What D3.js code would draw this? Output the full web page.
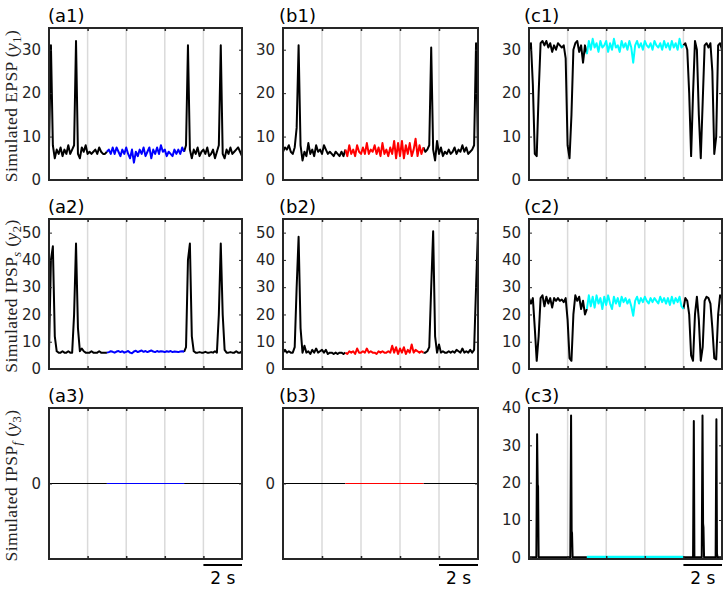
<!DOCTYPE html>
<html>
<head>
<meta charset="utf-8">
<script src="https://cdn.jsdelivr.net/npm/d3@7"></script>
<style>
  body { margin: 0; background: #fff; }
  svg { display: block; }
</style>
</head>
<body>
<script>
    // sample times of the traces, one every 0.1 s over the 10 s window
    var sampleTimes = d3.range(101).map((i) => i / 10);

    // gridlines / x ticks (s)
    var gridTimes = [2, 4, 6, 8];

    // y tick values per panel type
    var epspTicks = [0, 10, 20, 30];
    var ipspsTicks = [0, 10, 20, 30, 40, 50];
    var ipspfTicks = [0];
    var c3Ticks = [0, 10, 20, 30, 40];

    // highlighted window (s) of each column
    var aWindow = [3, 7];
    var bWindow = [3.2, 7.2];
    var cWindow = [3, 8];

    // (a1) simulated EPSP
    var a1Values = [7,31,8,5,7,6,7.5,5.5,7,6,
      8,6,7,8,32,6,5,7.5,6.5,8,
      6,6.5,6,6.5,7,6,7.5,6.5,6,6,
      6.5,7,6,7.5,6,7.5,6.5,5.5,7,6,
      7.5,6,5,7,4,6.5,5.5,7,6,7.5,
      5.5,6.5,7.5,5,7,6,7.5,6,8,6.5,
      7,5.5,6.5,6,5.5,7,6,7,6,7.5,
      6.5,8,31,7,5,7,6,7.5,5.5,6.5,
      7,6,7.5,5.5,6,7,5,6.5,8,31,
      6,5,7,6,7.5,6,6.5,7,7.5,6.5,
      5.5];

    // (a2) simulated IPSP_s
    var a2Values = [6,40,45,12,6.5,6,6,6.5,6,6,
      6.5,6,6,20,46,15,6.5,7.5,6.5,6,
      6,6,6.5,6,6,6,6.5,6,6,6,
      6,6.2,6.5,6.3,6,6.4,6.6,6.2,6.5,6,
      6.3,6.6,6,5.8,6.4,6.7,6.2,6.5,6.8,6.3,
      6.6,6.2,6.5,6.8,6.4,6.2,6.6,6.3,6.5,6.4,
      6.2,6.5,6.3,6.6,6.2,6.4,6.3,6.2,6.4,6.5,
      6.3,8,40,46,12,6.5,6,6,6.2,6,
      6,6.3,6,6,6.2,6,6.5,6,20,46,
      20,7,6,6,6.2,6,6,6.5,6,6,
      6.5];

    // (b1) simulated EPSP
    var b1Values = [6.5,7.5,7,8,6.5,6,7.5,12,31,8,
      4.5,6.5,5.5,8.5,6,7,5.5,8,6.5,7,
      6,8,7,6,6.5,6,5.5,6.5,6,5.5,
      6.5,5.5,7,5.5,8,6,7,5.5,8,6.5,
      6,7.5,6,8.5,6,7,6.5,8,6,7.5,
      5.5,8.5,6,7,5.5,7.5,6,9,5,8.5,
      5.5,9,5,8,6,8.5,5.5,7,9.5,5.5,
      8,6,7.5,6.5,7,8,30.5,7,4.5,9,
      6,7.5,5.5,6.5,6,7,6,6.5,7.5,6,
      7,6.5,8,6.5,7.5,6,6.5,7,8,31.5,
      6];

    // (b2) simulated IPSP_s
    var b2Values = [6,7,6,6.5,6,6,8,30,48.5,15,
      6,8.5,6,6.5,5.5,7,6,7.5,6,6.5,
      7,6,7,5.5,6,6,5.5,6,5.5,6,
      6,5.5,6,5.5,6.5,6,6.5,5.5,7.5,6,
      6,6.5,6,7.5,6,6.5,6,6,5.5,6.5,
      6,6.5,6,6,6.5,6,8.5,6,8,5.5,
      7.5,6,8,5.5,7,6,9,6,7,6.5,
      6,6.5,6,6,6.5,8,30,50.5,12,6,
      9,6,6.5,6,6,6.5,6,6.5,6,7,
      6.5,6,7.5,6,6.5,6,7,6,7,30,
      51.5];

    // (c1) simulated EPSP
    var c1Values = [30,31.5,22,6,5.5,20,31.5,32,31,32,
      30.5,31.5,29.5,31,30,31.5,31,30.5,31,28,
      8,5,15,30,31.5,32,29.5,31,27,31,
      29,32,30,32.5,30.5,31.5,29.5,32,30.5,31,
      32,29.5,31.5,30,32.5,30.5,31,29.5,32,30.5,
      31.5,30,32,30.5,27,31,32,30.5,31.5,30,
      32,31,30.5,31.5,30,32,31,30.5,31.5,30,
      32,30.5,31.5,30,32,30.5,31.5,30,32.5,30.5,
      31,31.5,30,20,5.5,20,32,30,15,5,
      18,31,31.5,30.5,31.5,25,6,10,31,31.5,
      30];

    // (c2) simulated IPSP_s
    var c2Values = [26,24,26,15,3,12,26,27,23,26.5,
      24,26,22.5,26,25,26,25,25.5,24.5,26,
      18,4,3,20,27,25,26.5,22,25,20,
      22,27,23,26.5,22.5,27,24,26,22,26.5,
      23.5,27,24,22,26.5,24,26,23,26.5,24.5,
      26,24,25.5,23,19.5,25,26.5,24,26,24.5,
      26.5,25,24,26,24.5,26,25,24,26.5,24.5,
      26,24,26,23.5,26.5,24,26,24.5,26.5,23,
      22,26,25,20,5,3,20,26.5,18,3,
      8,25,26.5,26,24,15,4,3.5,20,27,
      26];

    // (c3) simulated IPSP_f: sharp bursts, given as time / value pairs
    var c3Times = [0, 0.38, 0.42, 0.45, 0.47, 0.5, 2.14, 2.18, 2.21, 2.23, 2.26,
      3, 8, 8.5, 8.54, 8.57, 8.6, 8.95, 8.99, 9.02, 9.04, 9.07, 9.67, 9.71, 9.74, 9.77, 10];
    var c3Values = [0, 0, 33, 19.5, 19, 0, 0, 38, 7, 6.5, 0,
      0, 0, 0, 36.5, 0, 0, 0, 38, 9, 8, 0, 0, 37, 1, 0, 0];

    // (a3), (b3) flat at zero
    var a3Times = [0, 3, 7, 10];
    var b3Times = [0, 3.2, 7.2, 10];
    var flatValues = [0, 0, 0, 0];

    // layout of the 3x3 grid
    var colLeft = [49, 283, 529];
    var colRight = [242, 478, 722];
    var titleShift = [0, -3, -4];
    var rowTop = [28, 219, 408];
    var rowBottom = [180, 369, 559];

    var sansFont = 'DejaVu Sans, sans-serif';
    var serifFont = 'Liberation Serif, Times New Roman, serif';
    var axisColor = '#262626';

    var panels = [
      {name: '(a1)', col: 0, row: 0, t: sampleTimes, v: a1Values, dom: [0, 35], ticks: epspTicks, win: aWindow, color: '#0000ff', lw: 2},
      {name: '(b1)', col: 1, row: 0, t: sampleTimes, v: b1Values, dom: [0, 35], ticks: epspTicks, win: bWindow, color: '#ff0000', lw: 2},
      {name: '(c1)', col: 2, row: 0, t: sampleTimes, v: c1Values, dom: [0, 35], ticks: epspTicks, win: cWindow, color: '#00ffff', lw: 2},
      {name: '(a2)', col: 0, row: 1, t: sampleTimes, v: a2Values, dom: [0, 55], ticks: ipspsTicks, win: aWindow, color: '#0000ff', lw: 2},
      {name: '(b2)', col: 1, row: 1, t: sampleTimes, v: b2Values, dom: [0, 55], ticks: ipspsTicks, win: bWindow, color: '#ff0000', lw: 2},
      {name: '(c2)', col: 2, row: 1, t: sampleTimes, v: c2Values, dom: [0, 55], ticks: ipspsTicks, win: cWindow, color: '#00ffff', lw: 2},
      {name: '(a3)', col: 0, row: 2, t: a3Times, v: flatValues, dom: [-1, 1], ticks: ipspfTicks, win: aWindow, color: '#0000ff', lw: 1},
      {name: '(b3)', col: 1, row: 2, t: b3Times, v: flatValues, dom: [-1, 1], ticks: ipspfTicks, win: bWindow, color: '#ff0000', lw: 1},
      // zero sits just above the bottom edge so the thick cyan stretch shows
      {name: '(c3)', col: 2, row: 2, t: c3Times, v: c3Values, dom: [-0.45, 40], ticks: c3Ticks, win: cWindow, color: '#00ffff', lw: 2}
    ];

    // row y labels: pieces of text, some italic / subscript
    var rowLabels = [
      [['Simulated EPSP ('], ['y', 'i'], ['1', 's'], [')']],
      [['Simulated IPSP'], ['s', 'is'], [' ('], ['y', 'i'], ['2', 's'], [')']],
      [['Simulated IPSP'], ['f', 'is'], [' ('], ['y', 'i'], ['3', 's'], [')']]
    ];

    var svg = d3.select('body')
        .append('svg')
        .attr('width', 724)
        .attr('height', 589);

    panels.forEach(drawPanel);

    function drawPanel(p, idx) {
      var x0 = colLeft[p.col], x1 = colRight[p.col];
      var y0 = rowTop[p.row], y1 = rowBottom[p.row];

      var x = d3.scaleLinear().domain([0, 10]).range([x0, x1]);
      var y = d3.scaleLinear().domain(p.dom).range([y1, y0]);

      var g = svg.append('g');

      var clipId = 'clip' + idx;
      g.append('clipPath').attr('id', clipId)
        .append('rect')
        .attr('x', x0).attr('y', y0)
        .attr('width', x1 - x0).attr('height', y1 - y0);

      // vertical gridlines
      g.selectAll('.grid')
        .data(gridTimes)
        .enter()
        .append('line')
        .attr('x1', (d) => x(d)).attr('x2', (d) => x(d))
        .attr('y1', y0).attr('y2', y1)
        .attr('stroke', '#dadada')
        .attr('stroke-width', 1.5);

      var pts = p.t.map((t, i) => [t, p.v[i]]);
      var line = d3.line()
        .x((d) => x(d[0]))
        .y((d) => y(d[1]));

      var before = pts.filter((d) => d[0] <= p.win[0]);
      var inside = pts.filter((d) => d[0] >= p.win[0] && d[0] <= p.win[1]);
      var after = pts.filter((d) => d[0] >= p.win[1]);

      var traces = g.append('g').attr('clip-path', 'url(#' + clipId + ')');
      [before, after].forEach((seg) => {
        traces.append('path')
          .attr('d', line(seg))
          .attr('fill', 'none')
          .attr('stroke', '#000')
          .attr('stroke-width', p.lw)
          .attr('stroke-linejoin', 'round');
      });
      traces.append('path')
        .attr('d', line(inside))
        .attr('fill', 'none')
        .attr('stroke', p.color)
        .attr('stroke-width', p.row == 2 && p.col == 2 ? 3 : p.lw)
        .attr('stroke-linejoin', 'round');

      // y axis, ticks pointing inward
      var yAxis = g.append('g')
        .attr('transform', 'translate(' + x0 + ',0)')
        .call(d3.axisLeft(y).tickValues(p.ticks).tickSize(-3).tickPadding(8).tickFormat(d3.format('d')));
      yAxis.select('.domain').remove();
      yAxis.selectAll('line').attr('stroke', axisColor);
      yAxis.selectAll('text')
        .attr('fill', axisColor)
        .style('font-family', sansFont)
        .style('font-size', '15px');

      var yRight = g.append('g')
        .attr('transform', 'translate(' + x1 + ',0)')
        .call(d3.axisRight(y).tickValues(p.ticks).tickSize(-3).tickFormat(''));
      yRight.select('.domain').remove();
      yRight.selectAll('line').attr('stroke', axisColor);

      var xBottom = g.append('g')
        .attr('transform', 'translate(0,' + y1 + ')')
        .call(d3.axisBottom(x).tickValues(gridTimes).tickSize(-3).tickFormat(''));
      var xTop = g.append('g')
        .attr('transform', 'translate(0,' + y0 + ')')
        .call(d3.axisTop(x).tickValues(gridTimes).tickSize(-3).tickFormat(''));
      [xBottom, xTop].forEach((a) => {
        a.select('.domain').remove();
        a.selectAll('line').attr('stroke', axisColor).attr('stroke-width', 1.5);
      });

      // box
      g.append('rect')
        .attr('x', x0).attr('y', y0)
        .attr('width', x1 - x0).attr('height', y1 - y0)
        .attr('fill', 'none')
        .attr('stroke', axisColor)
        .attr('stroke-width', 2);

      // panel title
      g.append('text')
        .attr('x', x0 - 1 + titleShift[p.col])
        .attr('y', y0 - 6)
        .style('font-family', sansFont)
        .style('font-size', '18px')
        .attr('fill', '#000')
        .text(p.name);

      // 2 s scale bar under the bottom row
      if (p.row == 2) {
        g.append('line')
          .attr('x1', x(8)).attr('x2', x(10))
          .attr('y1', y1 + 6).attr('y2', y1 + 6)
          .attr('stroke', '#000')
          .attr('stroke-width', 2);
        g.append('text')
          .attr('x', (x(8) + x(10)) / 2)
          .attr('y', y1 + 25)
          .attr('text-anchor', 'middle')
          .style('font-family', sansFont)
          .style('font-size', '17px')
          .text('2 s');
      }

      // row label on the left column only
      if (p.col == 0) {
        var lab = svg.append('text')
          .attr('transform', 'translate(17,' + ((y0 + y1) / 2 + 2) + ') rotate(-90)')
          .attr('text-anchor', 'middle')
          .style('font-family', serifFont)
          .style('font-size', '17.5px')
          .style('letter-spacing', '0.4px')
          .attr('fill', '#222');
        var shifted = false;
        rowLabels[p.row].forEach((piece) => {
          var ts = lab.append('tspan').text(piece[0]);
          var kind = piece[1] || '';
          if (kind.indexOf('i') >= 0) ts.style('font-style', 'italic');
          if (kind.indexOf('s') >= 0) {
            ts.style('font-size', '12.5px').attr('dy', 4);
            shifted = true;
          } else if (shifted) {
            ts.attr('dy', -4);
            shifted = false;
          }
        });
      }
    }
</script>
</body>
</html>
